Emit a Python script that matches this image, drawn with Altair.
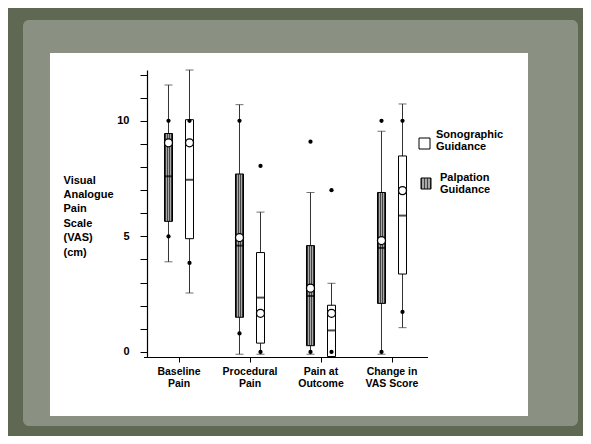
import altair as alt
import pandas as pd

# ---------------- data ----------------
categories = ["Baseline\nPain", "Procedural\nPain", "Pain at\nOutcome", "Change in\nVAS Score"]
groups = ["Palpation", "Sonographic"]

# order: for each category -> Palpation, Sonographic
whisker_low = [3.9, 2.55, -0.1, -0.1, -0.1, -0.2, -0.1, 1.05]
q1 = [5.65, 4.9, 1.5, 0.38, 0.27, -0.2, 2.1, 3.37]
median = [7.6, 7.45, 4.6, 2.35, 2.42, 0.93, 4.5, 5.9]
q3 = [9.45, 10.05, 7.7, 4.3, 4.6, 2.02, 6.9, 8.48]
whisker_high = [11.55, 12.2, 10.7, 6.05, 6.9, 2.97, 9.55, 10.73]
means = [9.05, 9.05, 4.95, 1.67, 2.76, 1.67, 4.82, 6.98]
points_high = [10, 10, 10, 8.05, 9.1, 7.0, 10, 10]
points_low = [5, 3.85, 0.8, 0, 0, 0, 0, 1.73]

y_ticks = list(range(13))
y_title = ["Visual", "Analogue", "Pain", "Scale", "(VAS)", "(cm)"]

cat_col = [c for c in categories for _ in groups]
grp_col = [g for _ in categories for g in groups]

df = pd.DataFrame({
    "cat": cat_col, "grp": grp_col,
    "lo": whisker_low, "q1": q1, "med": median, "q3": q3,
    "hi": whisker_high, "mean": means,
})
pts = pd.DataFrame({
    "cat": cat_col * 2, "grp": grp_col * 2,
    "v": points_high + points_low,
})
one = pd.DataFrame({"k": [0]})

FONT = "Liberation Sans"

def X():
    return alt.X(
        "cat:N",
        scale=alt.Scale(domain=categories, range=[-3.5, 280.5], paddingInner=0, paddingOuter=0),
        axis=alt.Axis(
            title=None, labelAngle=0, labelExpr="split(datum.label, '\\n')",
            labelFont=FONT, labelFontSize=10.5, labelFontWeight="bold", labelColor="black",
            labelLineHeight=12, labelPadding=4, labelBaseline="top",
            tickSize=5, tickColor="black", domainColor="black", domainWidth=1.2,
            zindex=1,
        ),
    )

def XO():
    return alt.XOffset("grp:N", scale=alt.Scale(domain=groups, paddingInner=0, paddingOuter=0.69))

def Y(field):
    return alt.Y(
        field,
        scale=alt.Scale(domain=[-0.22, 12.2], nice=False, zero=False),
        axis=alt.Axis(
            values=y_ticks, format="d",
            labelExpr="datum.value % 5 == 0 ? datum.label : ''",
            labelFont=FONT, labelFontSize=11, labelFontWeight="bold", labelColor="black",
            labelPadding=11, tickSize=7, tickColor="black", domainColor="black", domainWidth=1.2,
            grid=False,
            title=y_title, titleAngle=0, titleAlign="left", titleBaseline="top",
            titleX=-84, titleY=104, titleFont=FONT, titleFontSize=11,
            titleFontWeight="bold", titleColor="black", titleLineHeight=14.4,
            zindex=1,
        ),
    )

stripes = alt.LinearGradient(
    gradient="linear", x1=0, x2=1, y1=0, y2=0,
    stops=[
        alt.GradientStop(offset=0.0, color="#333333"), alt.GradientStop(offset=0.14, color="#333333"),
        alt.GradientStop(offset=0.14, color="#a8a8a8"), alt.GradientStop(offset=0.3, color="#a8a8a8"),
        alt.GradientStop(offset=0.3, color="#444444"), alt.GradientStop(offset=0.43, color="#444444"),
        alt.GradientStop(offset=0.43, color="#a8a8a8"), alt.GradientStop(offset=0.57, color="#a8a8a8"),
        alt.GradientStop(offset=0.57, color="#444444"), alt.GradientStop(offset=0.7, color="#444444"),
        alt.GradientStop(offset=0.7, color="#a8a8a8"), alt.GradientStop(offset=0.86, color="#a8a8a8"),
        alt.GradientStop(offset=0.86, color="#333333"), alt.GradientStop(offset=1.0, color="#333333"),
    ],
)

# ---------------- decoration ----------------
frame_light = alt.Chart(one).mark_rect(color="#8b9182", cornerRadius=6).encode(
    x=alt.value(-124), x2=alt.value(431), y=alt.value(-50), y2=alt.value(356))
panel = alt.Chart(one).mark_rect(color="white").encode(
    x=alt.value(-97), x2=alt.value(381), y=alt.value(-17), y2=alt.value(346))

base = alt.Chart(df)

whisk = base.mark_rule(color="#333333", strokeWidth=1).encode(
    x=X(), xOffset=XO(), y=Y("lo:Q"), y2="hi:Q")
cap_lo = base.mark_tick(color="#333333", size=8, thickness=1).encode(
    x=X(), xOffset=XO(), y=Y("lo:Q"))
cap_hi = base.mark_tick(color="#333333", size=8, thickness=1).encode(
    x=X(), xOffset=XO(), y=Y("hi:Q"))
box_p = base.transform_filter(alt.datum.grp == "Palpation").mark_bar(
    size=8, fill=stripes, stroke="black", strokeWidth=1).encode(
    x=X(), xOffset=XO(), y=Y("q1:Q"), y2="q3:Q")
box_s = base.transform_filter(alt.datum.grp == "Sonographic").mark_bar(
    size=8, fill="white", stroke="black", strokeWidth=1).encode(
    x=X(), xOffset=XO(), y=Y("q1:Q"), y2="q3:Q")
med = base.mark_tick(color="black", size=8, thickness=2).encode(
    x=X(), xOffset=XO(), y=Y("med:Q"))
outl = alt.Chart(pts).mark_circle(color="black", size=18, opacity=1).encode(
    x=X(), xOffset=XO(), y=Y("v:Q"))
mean_pt = base.mark_point(shape="circle", filled=True, fill="white", stroke="black",
                          strokeWidth=1.3, size=64, opacity=1).encode(
    x=X(), xOffset=XO(), y=Y("mean:Q"))

# ---------------- legend ----------------
leg_s_box = alt.Chart(one).mark_rect(fill="white", stroke="black", strokeWidth=1).encode(
    x=alt.value(272), x2=alt.value(283), y=alt.value(68), y2=alt.value(79))
leg_p_box = alt.Chart(one).mark_rect(fill=stripes, stroke="black", strokeWidth=1).encode(
    x=alt.value(274), x2=alt.value(284), y=alt.value(108), y2=alt.value(119))
leg_s_txt = alt.Chart(one).mark_text(
    align="left", baseline="alphabetic", lineBreak="\n", lineHeight=12,
    font=FONT, fontSize=11, fontWeight="bold", color="black").encode(
    x=alt.value(289), y=alt.value(68), text=alt.value("Sonographic\nGuidance"))
leg_p_txt = alt.Chart(one).mark_text(
    align="left", baseline="alphabetic", lineBreak="\n", lineHeight=12,
    font=FONT, fontSize=11, fontWeight="bold", color="black").encode(
    x=alt.value(293), y=alt.value(111), text=alt.value("Palpation\nGuidance"))

chart = alt.layer(
    frame_light, panel, whisk, cap_lo, cap_hi, box_p, box_s, med, outl, mean_pt,
    leg_s_box, leg_p_box, leg_s_txt, leg_p_txt,
).properties(
    width=363, height=287,
    autosize=alt.AutoSizeParams(type="none"),
    padding={"left": 139, "top": 62, "right": 73, "bottom": 79},
).configure(
    background="#5f6852",
).configure_view(stroke=None)

chart.save("out.html", embed_options={"renderer": "svg", "actions": False})
